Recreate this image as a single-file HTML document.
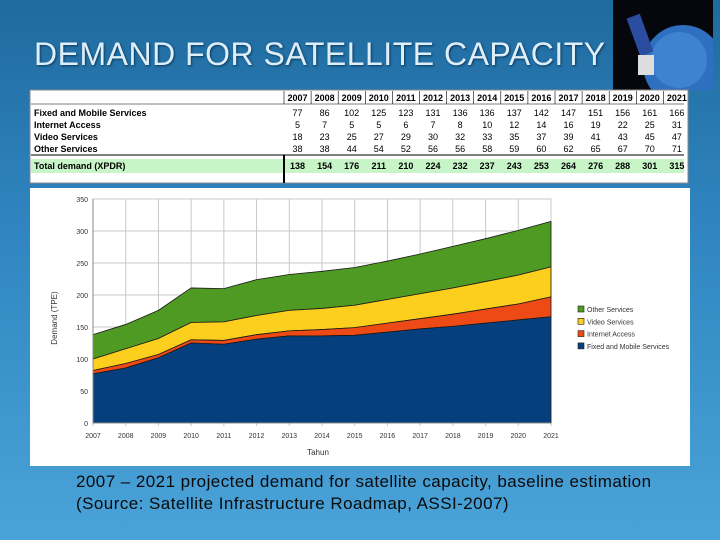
<!DOCTYPE html>
<html><head><meta charset="utf-8"><style>
body{margin:0;width:720px;height:540px;overflow:hidden;font-family:"Liberation Sans",sans-serif;}
#slide{position:relative;width:720px;height:540px;background:linear-gradient(180deg,#1f6a9e 0%,#2f84bf 40%,#4aa3d8 100%);}
#title{position:absolute;left:34px;top:36px;font-size:32px;letter-spacing:0.5px;color:#dfeffa;text-shadow:1px 1px 2px #0c3a5c;white-space:nowrap;}
#sat{position:absolute;left:613px;top:0;width:100px;height:90px;background:#05070d;overflow:hidden;}
#cap{position:absolute;left:76px;top:471px;font-size:17px;letter-spacing:0.45px;color:#0a0a0a;line-height:22px;white-space:nowrap;}
svg text{font-family:"Liberation Sans",sans-serif;}
</style></head><body>
<div id="slide">
<div id="sat">
<svg width="100" height="90"><circle cx="70" cy="65" r="40" fill="#2f6fc0"/><circle cx="66" cy="60" r="28" fill="#4b8fd8" opacity="0.6"/><rect x="20" y="15" width="14" height="40" fill="#2a4da0" transform="rotate(-20 27 35)"/><rect x="25" y="55" width="16" height="20" fill="#ddd"/></svg>
</div>
<div id="title">DEMAND FOR SATELLITE CAPACITY</div>
<svg id="chart" width="720" height="540" style="position:absolute;left:0;top:0"></svg>
<div id="cap">2007 – 2021 projected demand for satellite capacity, baseline estimation<br>(Source: Satellite Infrastructure Roadmap, ASSI-2007)</div>
</div>
<script>
const years=[2007,2008,2009,2010,2011,2012,2013,2014,2015,2016,2017,2018,2019,2020,2021];
const fixedMobile=[77,86,102,125,123,131,136,136,137,142,147,151,156,161,166];
const internet=[5,7,5,5,6,7,8,10,12,14,16,19,22,25,31];
const video=[18,23,25,27,29,30,32,33,35,37,39,41,43,45,47];
const other=[38,38,44,54,52,56,56,58,59,60,62,65,67,70,71];
const totals=[138,154,176,211,210,224,232,237,243,253,264,276,288,301,315];
const yTicks=[0,50,100,150,200,250,300,350];
const NS='http://www.w3.org/2000/svg';
const svg=document.getElementById('chart');
function mk(t,a,p){const e=document.createElementNS(NS,t);for(const k in a)e.setAttribute(k,a[k]);(p||svg).appendChild(e);return e;}
const tb=mk('g',{});


mk('rect',{x:30,y:90,width:658,height:93,fill:'#fff',stroke:'#888'},tb);
mk('rect',{x:31,y:159,width:653,height:14,fill:'#c8f5c8'},tb);
mk('line',{x1:31,y1:155,x2:684,y2:155,stroke:'#000'},tb);
mk('line',{x1:31,y1:104,x2:684,y2:104,stroke:'#000','stroke-width':0.5},tb);
mk('line',{x1:284,y1:155,x2:284,y2:183,stroke:'#000','stroke-width':2},tb);
const colX=i=>284+i*27.1;
const rowNames=['Fixed and Mobile Services','Internet Access','Video Services','Other Services'];
const rowData=[fixedMobile,internet,video,other];
years.forEach((y,i)=>{const t=mk('text',{x:colX(i)+13.5,y:101,'font-size':9,'text-anchor':'middle','font-weight':'bold'},tb);t.textContent=y;
 mk('line',{x1:colX(i),y1:91,x2:colX(i),y2:104,stroke:'#000','stroke-width':0.6},tb);});
rowNames.forEach((n,r)=>{const t=mk('text',{x:34,y:116+r*12,'font-size':9,'font-weight':'bold'},tb);t.textContent=n;
 rowData[r].forEach((v,i)=>{const c=mk('text',{x:colX(i)+13.5,y:116+r*12,'font-size':9,'text-anchor':'middle'},tb);c.textContent=v;});});
{const t=mk('text',{x:34,y:169,'font-size':9,'font-weight':'bold'},tb);t.textContent='Total demand (XPDR)';}
totals.forEach((v,i)=>{const c=mk('text',{x:colX(i)+13.5,y:169,'font-size':9,'text-anchor':'middle','font-weight':'bold'},tb);c.textContent=v;});
mk('rect',{x:30,y:188,width:660,height:278,fill:'#fff'});
const x0=93,x1=551,yb=423,yt=199;
const X=i=>x0+i*(x1-x0)/(years.length-1);
const Y=v=>yb-v*(yb-yt)/350;
yTicks.forEach(v=>{mk('line',{x1:x0,y1:Y(v),x2:x1,y2:Y(v),stroke:'#c8c8c8'});
 const t=mk('text',{x:x0-5,y:Y(v)+3,'font-size':7,'text-anchor':'end',fill:'#333'});t.textContent=v;});
years.forEach((y,i)=>{mk('line',{x1:X(i),y1:yt,x2:X(i),y2:yb+3,stroke:'#c8c8c8'});
 const t=mk('text',{x:X(i),y:yb+15,'font-size':7,'text-anchor':'middle',fill:'#333'});t.textContent=y;});
const series=[[fixedMobile,'#063f7e','area-fixed-mobile'],[internet,'#ee4a16','area-internet'],[video,'#fccf1e','area-video'],[other,'#4e9a22','area-other']];
let base=years.map(()=>0);
const layers=[];
series.forEach(([d,c,n])=>{const top=base.map((b,i)=>b+d[i]);layers.push([base,top,c,n]);base=top;});
layers.slice().reverse().forEach(([b,t,c,n])=>{
 let p='M'+years.map((_,i)=>X(i)+','+Y(t[i])).join('L');
 p+='L'+years.map((_,i)=>X(i)+','+Y(b[i])).reverse().join('L')+'Z';
 const e=mk('path',{d:p,fill:c,stroke:'#1a1a1a','stroke-width':0.8});
 
 
});
mk('line',{x1:x0,y1:yt,x2:x0,y2:yb,stroke:'#888'});
mk('line',{x1:x0,y1:yb,x2:x1,y2:yb,stroke:'#888'});
{const t=mk('text',{x:318,y:455,'font-size':8,'text-anchor':'middle',fill:'#333'});t.textContent='Tahun';
 }
{const t=mk('text',{x:57,y:318,'font-size':8,'text-anchor':'middle',fill:'#333',transform:'rotate(-90 57 318)'});t.textContent='Demand (TPE)';
 }
const legNames=['Other Services','Video Services','Internet Access','Fixed and Mobile Services'];
const legCols=['#4e9a22','#fccf1e','#ee4a16','#063f7e'];
legNames.forEach((n,i)=>{const y=306+i*12.3;
 const r=mk('rect',{x:578,y:y,width:6,height:6,fill:legCols[i],stroke:'#222','stroke-width':0.6});
 
 const t=mk('text',{x:587,y:y+6,'font-size':7,fill:'#333'});t.textContent=n;
 });
</script>
</body></html>
